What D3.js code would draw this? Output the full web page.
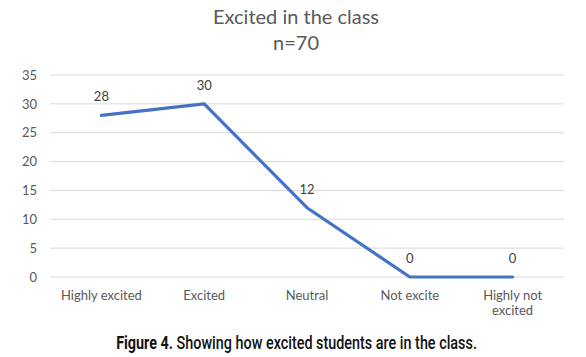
<!DOCTYPE html>
<html><head><meta charset="utf-8">
<script src="https://cdn.jsdelivr.net/npm/d3@7"></script>
<style>
body{margin:0;background:#fff;}
svg{display:block;}
</style></head>
<body>
<script>
const categories = ["Highly excited", "Excited", "Neutral", "Not excite", "Highly not excited"];
const values = [28, 30, 12, 0, 0];
const yTicks = [0, 5, 10, 15, 20, 25, 30, 35];
const titleLines = ["Excited in the class", "n=70"];
const captionBold = "Figure 4.";
const captionRest = " Showing how excited students are in the class.";

const W = 586, H = 357;
const svg = d3.select("body").append("svg").attr("width", W).attr("height", H);
const mLeft = 50, mRight = 564, mTop = 75, mBottom = 277;
const font = "Lato, 'Open Sans', sans-serif";

const x = d3.scaleBand().domain(categories).range([mLeft, mRight]);
const y = d3.scaleLinear().domain([0, 35]).range([mBottom, mTop]);

// gridlines
svg.append("g").selectAll("line").data(yTicks).join("line")
  .attr("x1", mLeft).attr("x2", mRight)
  .attr("y1", d => y(d)).attr("y2", d => y(d))
  .attr("stroke", "#d9d9d9").attr("stroke-width", 1);

// y axis labels
const yAxis = d3.axisLeft(y).tickValues(yTicks).tickSize(0).tickPadding(0);
const gy = svg.append("g").attr("transform", `translate(${mLeft - 13},0)`).call(yAxis);
gy.select(".domain").remove();
gy.selectAll("text").attr("font-family", font).attr("font-size", 13).attr("fill", "#595959");

// x axis labels
const xAxis = d3.axisBottom(x).tickSize(0).tickPadding(0);
const gx = svg.append("g").attr("transform", `translate(0,${mBottom + 23})`).call(xAxis);
gx.select(".domain").remove();
gx.selectAll("text").attr("font-family", font).attr("font-size", 13).attr("fill", "#595959")
  .attr("dy", "0").each(function(d) {
    const t = d3.select(this);
    if (d === "Highly not excited") {
      t.text(null);
      t.append("tspan").attr("x", 0).attr("dy", 0).text("Highly not");
      t.append("tspan").attr("x", 0).attr("dy", 15).text("excited");
    }
  });

// line
const cx = d => x(d) + x.bandwidth() / 2;
const line = d3.line().x((d, i) => cx(categories[i])).y(d => y(d));
svg.append("path").datum(values).attr("d", line)
  .attr("fill", "none").attr("stroke", "#4472C4").attr("stroke-width", 3.2)
  .attr("stroke-linejoin", "round").attr("stroke-linecap", "round");

// data labels
svg.append("g").selectAll("text").data(values).join("text")
  .attr("x", (d, i) => cx(categories[i]))
  .attr("y", d => y(d) - 14)
  .attr("text-anchor", "middle")
  .attr("font-family", font).attr("font-size", 13).attr("fill", "#404040")
  .text(d => d);

// title
svg.append("g").selectAll("text").data(titleLines).join("text")
  .attr("x", 296).attr("y", (d, i) => 24 + i * 26)
  .attr("text-anchor", "middle")
  .attr("font-family", font).attr("font-size", 20).attr("fill", "#595959")
  .text(d => d);

// caption
const capG = svg.append("g");
const cap = capG.append("text").attr("x", 0).attr("y", 0)
  .attr("text-anchor", "middle")
  .attr("font-family", "Roboto, 'Liberation Sans', sans-serif")
  .attr("font-size", 19).attr("fill", "#111");
cap.append("tspan").attr("font-weight", "bold").text(captionBold);
cap.append("tspan").attr("font-weight", 500).text(captionRest);
const capW = cap.node().getComputedTextLength();
const sx = 361 / capW;
capG.attr("transform", `translate(296.5,349) scale(${sx},1)`);
</script>
</body></html>
